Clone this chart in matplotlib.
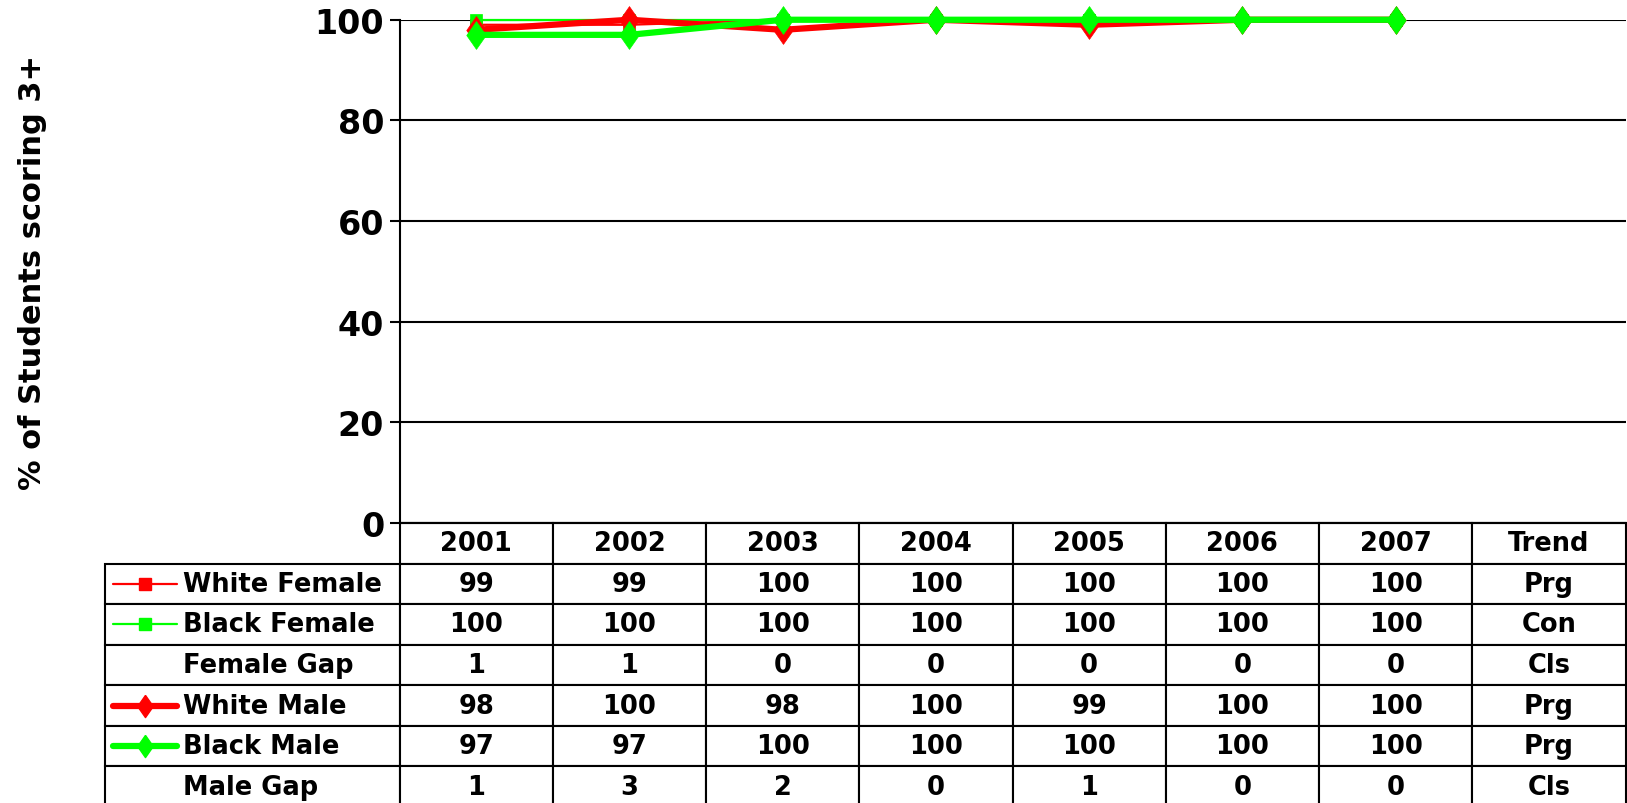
import numpy as np
import matplotlib
matplotlib.use('Agg')
import matplotlib.pyplot as plt
from matplotlib.table import Table

plt.rcParams['font.family'] = 'DejaVu Sans'
plt.rcParams['font.weight'] = 'bold'

years = ['2001', '2002', '2003', '2004', '2005', '2006', '2007']
white_female = [99, 99, 100, 100, 100, 100, 100]
black_female = [100, 100, 100, 100, 100, 100, 100]
female_gap = [1, 1, 0, 0, 0, 0, 0]
white_male = [98, 100, 98, 100, 99, 100, 100]
black_male = [97, 97, 100, 100, 100, 100, 100]
male_gap = [1, 3, 2, 0, 1, 0, 0]
trend = ['Prg', 'Con', 'Cls', 'Prg', 'Prg', 'Cls']
row_names = ['White Female', 'Black Female', 'Female Gap',
             'White Male', 'Black Male', 'Male Gap']

RED = '#ff0000'
GREEN = '#00ff00'
DIAMOND = [(0, 1), (0.7, 0), (0, -1), (-0.7, 0), (0, 1)]  # Excel-like diamond marker

W, H = 1627, 804
fig = plt.figure(figsize=(W / 100, H / 100), dpi=100)
ax_left, ax_top, ax_bot, ax_w = 399.5, 20.75, 524, 1226
ax = fig.add_axes([ax_left / W, (H - ax_bot) / H, ax_w / W, (ax_bot - ax_top) / H])

x = np.arange(len(years))
# series styles: (values, colour, line width, marker, marker size)
series = [
    (white_female, RED, 1.6, 's', 9),
    (black_female, GREEN, 1.6, 's', 9),
    (white_male, RED, 4.5, DIAMOND, 20),
    (black_male, GREEN, 4.5, DIAMOND, 20),
]
for vals, col, lw, mk, ms in series:
    ax.plot(x, vals, color=col, lw=lw, marker=mk, ms=ms, mec=col, mew=0.5,
            clip_on=False, zorder=3)

ax.set_xlim(-0.5, len(years) + 0.5)  # extra slot for the Trend column
ax.set_ylim(0, 100)
ax.set_yticks(range(0, 101, 20))
ax.set_xticks([])
ax.yaxis.grid(True, color='black', lw=1.5)
ax.set_axisbelow(True)
for s in ['top', 'right']:
    ax.spines[s].set_visible(False)
for s in ['left', 'bottom']:
    ax.spines[s].set_linewidth(1.5)
ax.tick_params(axis='y', length=7, width=1.5, pad=4, labelsize=24)
ax.set_ylabel('% of Students scoring 3+', fontsize=22, fontweight='bold')
ax.yaxis.set_label_coords(-0.2875, 0.5)

# data table under the chart
table_rows = [white_female, black_female, female_gap, white_male, black_male, male_gap]
tbl_left = (105 - ax_left) / ax_w
tbl_h = (808 - ax_bot) / (ax_bot - ax_top)
label_w = 294.5 / 153.25
tbl = Table(ax, bbox=[tbl_left, -tbl_h, 1 - tbl_left, tbl_h])
headers = years + ['Trend']
for c, name in enumerate(headers):
    tbl.add_cell(0, c + 1, width=1, height=1, text=name, loc='center')
for r, (name, vals, t) in enumerate(zip(row_names, table_rows, trend), start=1):
    cell = tbl.add_cell(r, 0, width=label_w, height=1, text=name, loc='left')
    cell.PAD = 78 / 294.5
    for c, v in enumerate(list(vals) + [t], start=1):
        tbl.add_cell(r, c, width=1, height=1, text=str(v), loc='center')
tbl.auto_set_font_size(False)
tbl.set_fontsize(18.5)
for cell in tbl.get_celld().values():
    cell.set_linewidth(1.5)
    cell.get_text().set_fontweight('bold')
ax.add_table(tbl)

# legend keys inside the table label column
row_h = tbl_h / 7
keys = {1: (RED, 1.6, 's', 9), 2: (GREEN, 1.6, 's', 9),
        4: (RED, 4.5, DIAMOND, 16), 5: (GREEN, 4.5, DIAMOND, 16)}
k0, k1 = (113 - ax_left) / ax_w, (177 - ax_left) / ax_w
for r, (col, lw, mk, ms) in keys.items():
    y = -row_h * (r + 0.5)
    ax.plot([k0, k1], [y, y], color=col, lw=lw, transform=ax.transAxes,
            clip_on=False, solid_capstyle='round')
    ax.plot([(k0 + k1) / 2], [y], color=col, marker=mk, ms=ms, mec=col,
            transform=ax.transAxes, clip_on=False)

plt.savefig('out.png', dpi=100)
